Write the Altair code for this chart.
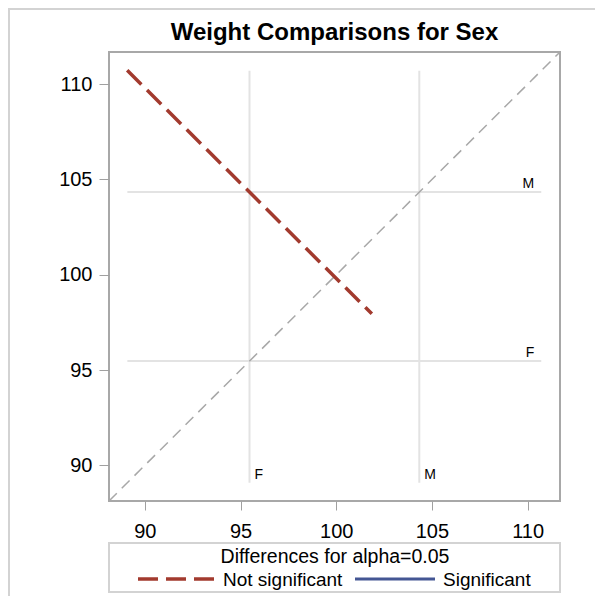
import altair as alt
import pandas as pd

# ---------------- data ----------------
title_text = "Weight Comparisons for Sex"
levels = ["F", "M"]
lsmeans = [95.47, 104.34]
axis_range = [88.13, 111.69]
ref_range = [89.09, 110.71]
diff_x = [89.08, 101.86]
diff_y = [110.73, 97.95]
diff_status = ["Not significant", "Not significant"]
tick_values = [90, 95, 100, 105, 110]
legend_title = "Differences for alpha=0.05"
legend_labels = ["Not significant", "Significant"]
legend_colors = ["#A23A2E", "#445694"]

W, H = 451, 449
FONT = "Liberation Sans"

xs = alt.Scale(domain=axis_range, nice=False, zero=False)
ys = alt.Scale(domain=axis_range, nice=False, zero=False)
x_axis = alt.Axis(values=tick_values, domain=False, grid=False, tickColor="#A0A0A0",
                  tickSize=9, tickWidth=1, labelFontSize=20, labelFont=FONT,
                  labelColor="#000000", labelPadding=11, title=None,
                  labelFlush=False, labelOverlap=False)
y_axis = alt.Axis(values=tick_values, domain=False, grid=False, tickColor="#A0A0A0",
                  tickSize=10, tickWidth=1, labelFontSize=20, labelFont=FONT,
                  labelColor="#000000", labelPadding=7, title=None,
                  labelFlush=False, labelOverlap=False)


def X(f):
    return alt.X(f, type="quantitative", scale=xs, axis=x_axis)


def Y(f):
    return alt.Y(f, type="quantitative", scale=ys, axis=y_axis)


ref_df = pd.DataFrame({"level": levels, "mean": lsmeans,
                       "lo": [ref_range[0]] * len(levels),
                       "hi": [ref_range[1]] * len(levels)})
diag_df = pd.DataFrame({"x": axis_range, "y": axis_range})
diff_df = pd.DataFrame({"x": diff_x, "y": diff_y, "status": diff_status})

diag = alt.Chart(diag_df).mark_line(color="#A8A8A8", strokeWidth=1.5,
                                    strokeDash=[11, 7]).encode(x=X("x"), y=Y("y"))

vref = alt.Chart(ref_df).mark_rule(color="#E3E3E3", strokeWidth=2).encode(
    x=X("mean"), y=Y("lo"), y2="hi")
href = alt.Chart(ref_df).mark_rule(color="#E3E3E3", strokeWidth=2).encode(
    y=Y("mean"), x=X("lo"), x2="hi")

diff = alt.Chart(diff_df).mark_line(strokeWidth=3.5, strokeCap="butt").encode(
    x=X("x"), y=Y("y"),
    color=alt.Color("status:N", scale=alt.Scale(domain=legend_labels, range=legend_colors), legend=None),
    strokeDash=alt.StrokeDash("status:N", scale=alt.Scale(domain=legend_labels, range=[[20, 8], [1, 0]]), legend=None),
)

right_labels = alt.Chart(ref_df).mark_text(align="right", baseline="alphabetic", dx=-7, dy=-4,
                                           fontSize=14, font=FONT, color="#000000").encode(
    x=X("hi"), y=Y("mean"), text="level:N")
bottom_labels = alt.Chart(ref_df).mark_text(align="left", baseline="alphabetic", dx=5, dy=-4,
                                            fontSize=14, font=FONT, color="#000000").encode(
    x=X("mean"), y=Y("lo"), text="level:N")

title = alt.Chart(pd.DataFrame({"t": [title_text]})).mark_text(
    fontSize=24, fontWeight="bold", font=FONT, align="center", baseline="alphabetic",
    color="#000000").encode(x=alt.value(W / 2), y=alt.value(-12), text="t:N")

# ---------------- legend drawn below the plot ----------------
one = pd.DataFrame({"a": [0]})
leg_box = alt.Chart(one).mark_rect(fillOpacity=0, stroke="#D3D3D3", strokeWidth=2).encode(
    x=alt.value(0), x2=alt.value(W), y=alt.value(491), y2=alt.value(540))
leg_title = alt.Chart(pd.DataFrame({"t": [legend_title]})).mark_text(
    fontSize=19.5, font=FONT, align="center", baseline="alphabetic", color="#000000").encode(
    x=alt.value(226), y=alt.value(511), text="t:N")
leg_sym1 = alt.Chart(one).mark_rule(color=legend_colors[0], strokeWidth=3.5, strokeDash=[20, 8]).encode(
    x=alt.value(29), x2=alt.value(105), y=alt.value(527))
leg_sym2 = alt.Chart(one).mark_rule(color=legend_colors[1], strokeWidth=3).encode(
    x=alt.value(246), x2=alt.value(326), y=alt.value(527))
leg_lab1 = alt.Chart(pd.DataFrame({"t": [legend_labels[0]]})).mark_text(
    fontSize=19, font=FONT, align="left", baseline="alphabetic", color="#000000").encode(
    x=alt.value(114), y=alt.value(534), text="t:N")
leg_lab2 = alt.Chart(pd.DataFrame({"t": [legend_labels[1]]})).mark_text(
    fontSize=19, font=FONT, align="left", baseline="alphabetic", color="#000000").encode(
    x=alt.value(334), y=alt.value(534), text="t:N")

# outer image border (left and top)
border_left = alt.Chart(one).mark_rule(color="#D3D3D3", strokeWidth=2).encode(
    x=alt.value(-100), y=alt.value(-44), y2=alt.value(544))
border_top = alt.Chart(one).mark_rule(color="#D3D3D3", strokeWidth=2).encode(
    x=alt.value(-101), x2=alt.value(486), y=alt.value(-43))

chart = alt.layer(
    vref, href, diag, diff, right_labels, bottom_labels, title,
    leg_box, leg_title, leg_sym1, leg_sym2, leg_lab1, leg_lab2,
    border_left, border_top,
).properties(
    width=W, height=H,
    autosize=alt.AutoSizeParams(type="none"),
    padding={"left": 101, "top": 44, "right": 35, "bottom": 95},
).configure_view(stroke="#A8A8A8", strokeWidth=2)

chart.save("out.html", embed_options={"renderer": "svg", "actions": False})
